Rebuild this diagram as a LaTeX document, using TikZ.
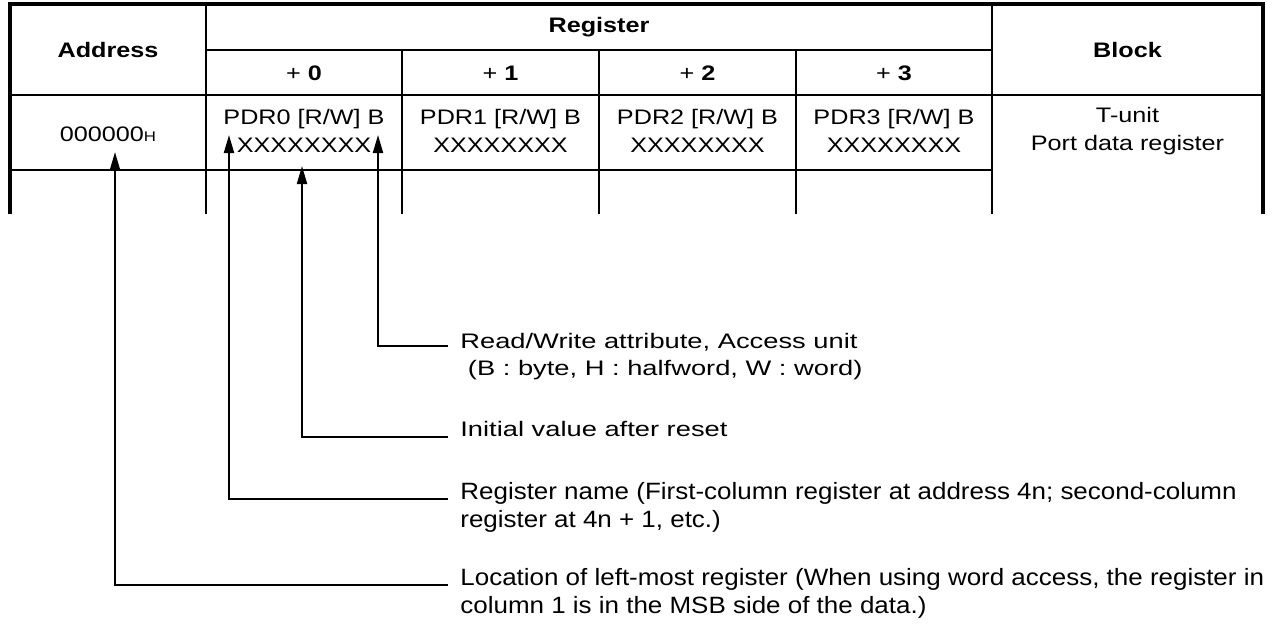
\documentclass[tikz,border=0pt]{standalone}
\usepackage{fontspec}
\setmainfont{Liberation Sans}[FakeStretch=1.2]
\newfontfamily\notefont{Liberation Sans}[FakeStretch=1.3]
\newfontfamily\longnotefont{Liberation Sans}[FakeStretch=1.1]
\usetikzlibrary{arrows.meta}
\begin{document}
\begin{tikzpicture}[x=0.5pt,y=-0.5pt,
    cell/.style={align=center,inner sep=0pt,font=\fontsize{10.5}{14}\selectfont},
    head/.style={cell,font=\fontsize{10.5}{14}\selectfont\bfseries},
    note/.style={anchor=base west,align=left,inner sep=0pt,font=\notefont\fontsize{10.5}{13.5}\selectfont},
    longnote/.style={note,font=\longnotefont\fontsize{11.8}{14}\selectfont},
    grid/.style={line width=1.1pt},
    rowline/.style={line width=1.4pt},
    frame/.style={line width=2pt},
    leader/.style={line width=1pt,-{Triangle[length=9pt,width=5pt]}}]
\useasboundingbox(0,0)rectangle(1280,629);
% table
\draw[frame](10,214)--(10,4)--(1263,4)--(1263,214);
\draw[grid](206,4)--(206,214);
\draw[grid](992,4)--(992,214);
\draw[grid](206,50)--(992,50);
\foreach \x in {402,599,796}\draw[grid](\x,50)--(\x,214);
\draw[rowline](10,95)--(1263,95);
\draw[rowline](10,170)--(992,170);
\node[head](addrhead)at(108,49.5){Address};
\node[head](reghead)at(599,27){Register};
\node[head](blockhead)at(1127.5,49.5){Block};
\foreach \n/\x in {0/304,1/500.5,2/697.5,3/894}{
    \node[cell](off\n)at(\x,73){+ \textbf{\n}};
    \node[cell](pdr\n)at(\x,131){PDR\n\ [R/W] B\\XXXXXXXX};
}
\node[cell](addr)at(108,134){000000{\fontsize{7}{8}\selectfont H}};
\node[cell](block)at(1127.5,131){T-unit\\Port data register};
% notes (base = last line)
\node[note](rwnote)at(460,375){Read/Write attribute, Access unit\\\ (B : byte, H : halfword, W : word)};
\node[note](initnote)at(460,436){Initial value after reset};
\node[longnote](namenote)at(460,527){Register name (First-column register at address 4n; second-column\\register at 4n + 1, etc.)};
\node[longnote](locnote)at(460,613){Location of left-most register (When using word access, the register in\\column 1 is in the MSB side of the data.)};
% leaders
\coordinate(rwend)at(448,346);
\coordinate(rwtip)at(378,135);
\coordinate(initend)at(448,437);
\coordinate(inittip)at(302,166);
\coordinate(nameend)at(448,499);
\coordinate(nametip)at(229,135);
\coordinate(locend)at(448,585);
\coordinate(loctip)at(115,152);
\draw[leader](rwend)-|(rwtip);
\draw[leader](initend)-|(inittip);
\draw[leader](nameend)-|(nametip);
\draw[leader](locend)-|(loctip);
\end{tikzpicture}
\end{document}
